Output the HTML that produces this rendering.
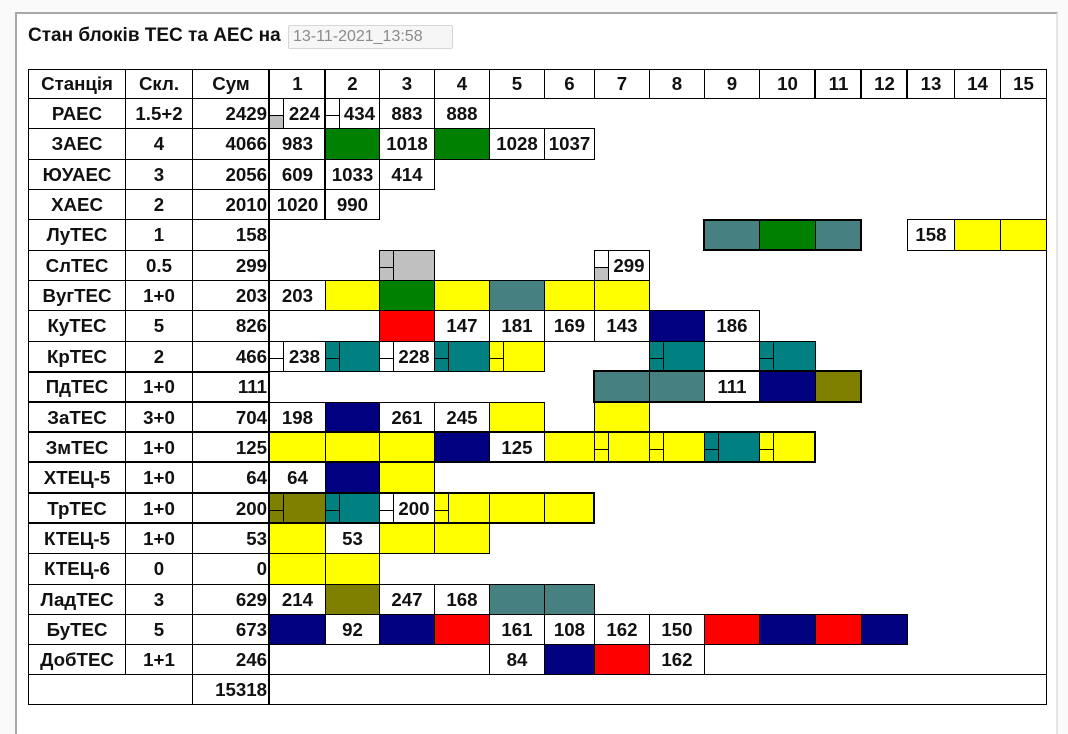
<!DOCTYPE html>
<html><head><meta charset="utf-8">
<style>
html,body{margin:0;padding:0;}
body{width:1068px;height:718px;background:#fafafa;position:relative;overflow:hidden;font-family:"Liberation Sans",Arial,sans-serif;}
.panel{position:absolute;left:15px;top:12px;width:1039px;height:720px;background:#fff;border-top:2px solid #a8a8a8;border-left:2px solid #a8a8a8;border-right:2px solid #e4e4e4;}
.title{position:absolute;left:28px;top:25px;font-size:19px;line-height:21px;font-weight:bold;color:#111;white-space:nowrap;}
.inp{position:absolute;left:288px;top:25px;width:165px;height:24px;box-sizing:border-box;border:1px solid #d6d6d6;border-radius:2px;background:#f6f6f6;color:#8a8a8a;font-size:16px;line-height:22px;padding-left:4px;white-space:nowrap;}
.c{position:absolute;box-sizing:border-box;border:1px solid #000;text-align:center;font-weight:bold;font-size:18.67px;color:#111;white-space:nowrap;background:#fff;}
.r0{top:69px;height:30px;line-height:28px}
.r1{top:98px;height:31px;line-height:29px}
.r2{top:128px;height:32px;line-height:30px}
.r3{top:159px;height:31px;line-height:29px}
.r4{top:189px;height:31px;line-height:29px}
.r5{top:219px;height:32px;line-height:30px}
.r6{top:250px;height:31px;line-height:29px}
.r7{top:280px;height:31px;line-height:29px}
.r8{top:310px;height:32px;line-height:30px}
.r9{top:341px;height:31px;line-height:29px}
.r10{top:371px;height:32px;line-height:30px}
.r11{top:402px;height:31px;line-height:29px}
.r12{top:432px;height:31px;line-height:29px}
.r13{top:462px;height:32px;line-height:30px}
.r14{top:493px;height:31px;line-height:29px}
.r15{top:523px;height:31px;line-height:29px}
.r16{top:553px;height:32px;line-height:30px}
.r17{top:584px;height:31px;line-height:29px}
.r18{top:614px;height:31px;line-height:29px}
.r19{top:644px;height:31px;line-height:29px}
.r20{top:674px;height:31px;line-height:29px}
.a{left:28px;width:98px}
.b{left:125px;width:68px}
.s{left:192px;width:78px;text-align:right;padding-right:2px}
.ab{left:28px;width:165px}
.k1{left:269px;width:57px}
.k2{left:325px;width:55px}
.k3{left:379px;width:56px}
.k4{left:434px;width:56px}
.k5{left:489px;width:56px}
.k6{left:544px;width:51px}
.k7{left:594px;width:56px}
.k8{left:649px;width:56px}
.k9{left:704px;width:56px}
.k10{left:759px;width:57px}
.k11{left:815px;width:47px}
.k12{left:861px;width:47px}
.k13{left:907px;width:48px}
.k14{left:954px;width:47px}
.k15{left:1000px;width:47px}
.kall{left:269px;width:778px}
.Y{background:#ffff00}
.G{background:#008000}
.T{background:#008080}
.S{background:#478081}
.N{background:#000080}
.R{background:#ff0000}
.O{background:#808000}
.Q{background:#c0c0c0}
.p{padding-left:14px}
.sl{position:absolute;left:0;top:0;bottom:0;width:13px;border-right:1px solid #000;display:block;}
.sl::after{content:"";position:absolute;left:0;right:0;top:55%;border-top:1px solid #000;}
.sl b{position:absolute;left:0;right:0;bottom:0;height:45%;display:block;}
.ln{position:absolute;background:#000;}
.fr{position:absolute;box-sizing:border-box;border:2px solid #000;}
</style></head>
<body>
<div class="panel"></div>
<div class="title">Стан блоків ТЕС та АЕС на</div>
<div class="inp">13-11-2021_13:58</div>

<!-- header -->
<div class="c r0 a">Станція</div>
<div class="c r0 b">Скл.</div>
<div class="c r0 s" style="text-align:center;padding-right:0">Сум</div>
<div class="c r0 k1">1</div><div class="c r0 k2">2</div><div class="c r0 k3">3</div><div class="c r0 k4">4</div><div class="c r0 k5">5</div>
<div class="c r0 k6">6</div><div class="c r0 k7">7</div><div class="c r0 k8">8</div><div class="c r0 k9">9</div><div class="c r0 k10">10</div>
<div class="c r0 k11">11</div><div class="c r0 k12">12</div><div class="c r0 k13">13</div><div class="c r0 k14">14</div><div class="c r0 k15">15</div>

<!-- left columns -->
<div class="c r1 a">РАЕС</div><div class="c r1 b">1.5+2</div><div class="c r1 s">2429</div>
<div class="c r2 a">ЗАЕС</div><div class="c r2 b">4</div><div class="c r2 s">4066</div>
<div class="c r3 a">ЮУАЕС</div><div class="c r3 b">3</div><div class="c r3 s">2056</div>
<div class="c r4 a">ХАЕС</div><div class="c r4 b">2</div><div class="c r4 s">2010</div>
<div class="c r5 a">ЛуТЕС</div><div class="c r5 b">1</div><div class="c r5 s">158</div>
<div class="c r6 a">СлТЕС</div><div class="c r6 b">0.5</div><div class="c r6 s">299</div>
<div class="c r7 a">ВугТЕС</div><div class="c r7 b">1+0</div><div class="c r7 s">203</div>
<div class="c r8 a">КуТЕС</div><div class="c r8 b">5</div><div class="c r8 s">826</div>
<div class="c r9 a">КрТЕС</div><div class="c r9 b">2</div><div class="c r9 s">466</div>
<div class="c r10 a">ПдТЕС</div><div class="c r10 b">1+0</div><div class="c r10 s">111</div>
<div class="c r11 a">ЗаТЕС</div><div class="c r11 b">3+0</div><div class="c r11 s">704</div>
<div class="c r12 a">ЗмТЕС</div><div class="c r12 b">1+0</div><div class="c r12 s">125</div>
<div class="c r13 a">ХТЕЦ-5</div><div class="c r13 b">1+0</div><div class="c r13 s">64</div>
<div class="c r14 a">ТрТЕС</div><div class="c r14 b">1+0</div><div class="c r14 s">200</div>
<div class="c r15 a">КТЕЦ-5</div><div class="c r15 b">1+0</div><div class="c r15 s">53</div>
<div class="c r16 a">КТЕЦ-6</div><div class="c r16 b">0</div><div class="c r16 s">0</div>
<div class="c r17 a">ЛадТЕС</div><div class="c r17 b">3</div><div class="c r17 s">629</div>
<div class="c r18 a">БуТЕС</div><div class="c r18 b">5</div><div class="c r18 s">673</div>
<div class="c r19 a">ДобТЕС</div><div class="c r19 b">1+1</div><div class="c r19 s">246</div>
<div class="c r20 ab"></div><div class="c r20 s">15318</div>
<div class="c r20 kall"></div>

<!-- outer frame of data area -->
<div class="ln" style="left:1046px;top:69px;width:1px;height:636px"></div>

<!-- РАЕС -->
<div class="c r1 k1 p"><i class="sl"><b class="Q"></b></i>224</div>
<div class="c r1 k2 p"><i class="sl"><b></b></i>434</div>
<div class="c r1 k3">883</div>
<div class="c r1 k4">888</div>
<!-- ЗАЕС -->
<div class="c r2 k1">983</div>
<div class="c r2 k2 G"></div>
<div class="c r2 k3">1018</div>
<div class="c r2 k4 G"></div>
<div class="c r2 k5">1028</div>
<div class="c r2 k6">1037</div>
<!-- ЮУАЕС -->
<div class="c r3 k1">609</div>
<div class="c r3 k2">1033</div>
<div class="c r3 k3">414</div>
<!-- ХАЕС -->
<div class="c r4 k1">1020</div>
<div class="c r4 k2">990</div>
<!-- ЛуТЕС -->
<div class="c r5 k9 S"></div>
<div class="c r5 k10 G"></div>
<div class="c r5 k11 S"></div>
<div class="c r5 k13">158</div>
<div class="c r5 k14 Y"></div>
<div class="c r5 k15 Y"></div>
<!-- СлТЕС -->
<div class="c r6 k3 p Q"><i class="sl Q"><b class="Q"></b></i></div>
<div class="c r6 k7 p"><i class="sl"><b class="Q"></b></i>299</div>
<!-- ВугТЕС -->
<div class="c r7 k1">203</div>
<div class="c r7 k2 Y"></div>
<div class="c r7 k3 G"></div>
<div class="c r7 k4 Y"></div>
<div class="c r7 k5 S"></div>
<div class="c r7 k6 Y"></div>
<div class="c r7 k7 Y"></div>
<!-- КуТЕС -->
<div class="c r8 k3 R"></div>
<div class="c r8 k4">147</div>
<div class="c r8 k5">181</div>
<div class="c r8 k6">169</div>
<div class="c r8 k7">143</div>
<div class="c r8 k8 N"></div>
<div class="c r8 k9">186</div>
<!-- КрТЕС -->
<div class="c r9 k1 p"><i class="sl"><b></b></i>238</div>
<div class="c r9 k2 p T"><i class="sl T"><b class="T"></b></i></div>
<div class="c r9 k3 p"><i class="sl"><b></b></i>228</div>
<div class="c r9 k4 p T"><i class="sl T"><b class="T"></b></i></div>
<div class="c r9 k5 p Y"><i class="sl Y"><b class="Y"></b></i></div>
<div class="c r9 k8 p T"><i class="sl T"><b class="T"></b></i></div>
<div class="c r9 k10 p T"><i class="sl T"><b class="T"></b></i></div>
<!-- ПдТЕС -->
<div class="c r10 k7 S"></div>
<div class="c r10 k8 S"></div>
<div class="c r10 k9">111</div>
<div class="c r10 k10 N"></div>
<div class="c r10 k11 O"></div>
<!-- ЗаТЕС -->
<div class="c r11 k1">198</div>
<div class="c r11 k2 N"></div>
<div class="c r11 k3">261</div>
<div class="c r11 k4">245</div>
<div class="c r11 k5 Y"></div>
<div class="c r11 k7 Y"></div>
<!-- ЗмТЕС -->
<div class="c r12 k1 Y"></div>
<div class="c r12 k2 Y"></div>
<div class="c r12 k3 Y"></div>
<div class="c r12 k4 N"></div>
<div class="c r12 k5">125</div>
<div class="c r12 k6 Y"></div>
<div class="c r12 k7 p Y"><i class="sl Y"><b class="Y"></b></i></div>
<div class="c r12 k8 p Y"><i class="sl Y"><b class="Y"></b></i></div>
<div class="c r12 k9 p T"><i class="sl T"><b class="T"></b></i></div>
<div class="c r12 k10 p Y"><i class="sl Y"><b class="Y"></b></i></div>
<!-- ХТЕЦ-5 -->
<div class="c r13 k1">64</div>
<div class="c r13 k2 N"></div>
<div class="c r13 k3 Y"></div>
<!-- ТрТЕС -->
<div class="c r14 k1 p O"><i class="sl O"><b class="O"></b></i></div>
<div class="c r14 k2 p T"><i class="sl T"><b class="T"></b></i></div>
<div class="c r14 k3 p"><i class="sl"><b></b></i>200</div>
<div class="c r14 k4 p Y"><i class="sl Y"><b class="Y"></b></i></div>
<div class="c r14 k5 Y"></div>
<div class="c r14 k6 Y"></div>
<!-- КТЕЦ-5 -->
<div class="c r15 k1 Y"></div>
<div class="c r15 k2">53</div>
<div class="c r15 k3 Y"></div>
<div class="c r15 k4 Y"></div>
<!-- КТЕЦ-6 -->
<div class="c r16 k1 Y"></div>
<div class="c r16 k2 Y"></div>
<!-- ЛадТЕС -->
<div class="c r17 k1">214</div>
<div class="c r17 k2 O"></div>
<div class="c r17 k3">247</div>
<div class="c r17 k4">168</div>
<div class="c r17 k5 S"></div>
<div class="c r17 k6 S"></div>
<!-- БуТЕС -->
<div class="c r18 k1 N"></div>
<div class="c r18 k2">92</div>
<div class="c r18 k3 N"></div>
<div class="c r18 k4 R"></div>
<div class="c r18 k5">161</div>
<div class="c r18 k6">108</div>
<div class="c r18 k7">162</div>
<div class="c r18 k8">150</div>
<div class="c r18 k9 R"></div>
<div class="c r18 k10 N"></div>
<div class="c r18 k11 R"></div>
<div class="c r18 k12 N"></div>
<!-- ДобТЕС -->
<div class="c r19 k5">84</div>
<div class="c r19 k6 N"></div>
<div class="c r19 k7 R"></div>
<div class="c r19 k8">162</div>

<!-- thick lines -->
<div class="ln" style="left:268px;top:69px;width:2px;height:636px"></div>
<div class="ln" style="left:324px;top:69px;width:2px;height:151px"></div>
<div class="ln" style="left:814px;top:69px;width:2px;height:30px"></div>
<div class="ln" style="left:860px;top:69px;width:2px;height:30px"></div>
<div class="ln" style="left:906px;top:69px;width:2px;height:30px"></div>
<div class="ln" style="left:28px;top:371px;width:242px;height:2px"></div>
<div class="ln" style="left:28px;top:401px;width:242px;height:2px"></div>
<div class="ln" style="left:28px;top:431px;width:242px;height:2px"></div>
<div class="ln" style="left:28px;top:461px;width:242px;height:2px"></div>
<div class="ln" style="left:28px;top:492px;width:242px;height:2px"></div>
<div class="ln" style="left:28px;top:522px;width:242px;height:2px"></div>

<!-- frames -->
<div class="fr" style="left:703px;top:219px;width:159px;height:32px"></div>
<div class="fr" style="left:593px;top:370px;width:269px;height:33px"></div>
<div class="fr" style="left:268px;top:431px;width:548px;height:32px"></div>
<div class="fr" style="left:268px;top:492px;width:327px;height:32px"></div>
</body></html>
